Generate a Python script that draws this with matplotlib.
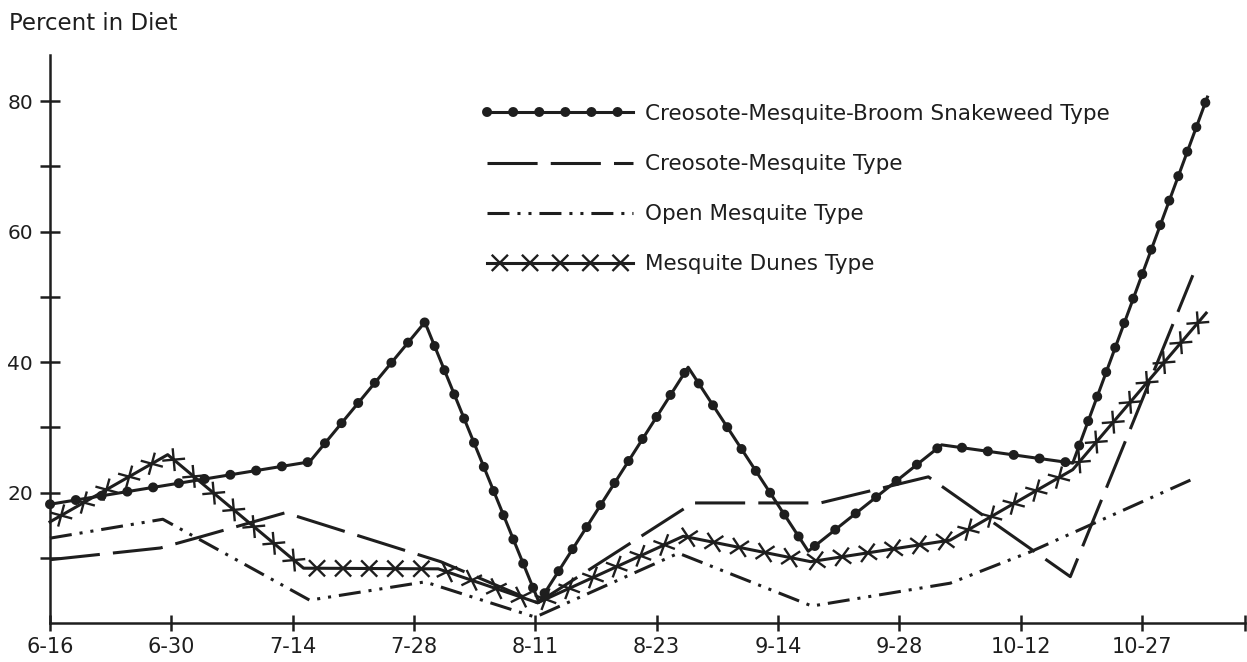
import numpy as np
import matplotlib
matplotlib.use('Agg')
import matplotlib.pyplot as plt
import matplotlib.patheffects as pe

# sampling dates (evenly spaced on the axis)
dates = ['6-16', '6-30', '7-14', '7-28', '8-11', '8-23', '9-14', '9-28', '10-12', '10-27']

# vertices (x in date-tick units, y in percent)
cmb_x = [0.00, 2.14, 3.09, 4.03, 5.26, 6.25, 7.35, 8.43, 9.54]
cmb_y = [18.2, 24.7, 46.1, 3.2, 39.2, 11.0, 27.3, 24.5, 80.6]

cm_x = [0.00, 0.91, 1.24, 1.94, 3.22, 4.02, 5.30, 6.35, 7.24, 8.41, 9.42]
cm_y = [9.7, 11.5, 13.2, 16.9, 9.4, 3.1, 18.4, 18.4, 22.4, 7.1, 53.3]

om_x = [0.00, 0.93, 2.14, 3.09, 4.00, 5.18, 6.28, 7.42, 8.08, 9.40]
om_y = [13.0, 15.9, 3.5, 6.3, 0.9, 10.7, 2.6, 6.1, 10.9, 21.9]

md_x = [0.00, 0.97, 2.09, 3.20, 4.02, 5.22, 6.27, 7.42, 8.43, 9.53]
md_y = [15.5, 25.8, 8.4, 8.3, 3.1, 13.3, 9.4, 12.7, 23.5, 47.5]

labels = ['Creosote-Mesquite-Broom Snakeweed Type',
          'Creosote-Mesquite Type',
          'Open Mesquite Type',
          'Mesquite Dunes Type']

ink = '#1e1e1e'
plt.rcParams['font.family'] = ['DejaVu Sans']

fig = plt.figure(figsize=(12.47, 6.62), dpi=100)
ax = fig.add_axes([50 / 1247, 1 - 623 / 662, 1195 / 1247, 568 / 662])

lw = 2.2
# solid line + evenly spaced round dots (zero-length round-capped dashes)
l_cmb, = ax.plot(cmb_x, cmb_y, color=ink, lw=lw, clip_on=False)
l_dot, = ax.plot(cmb_x, cmb_y, color=ink, lw=7.2, dashes=(0.01, 2.6),
                 dash_capstyle='round', clip_on=False)
l_cm, = ax.plot(cm_x, cm_y, color=ink, lw=lw, dashes=(16.4, 4.3), clip_on=False)
l_om, = ax.plot(om_x, om_y, color=ink, lw=lw,
                dashes=(7.2, 2.6, 1.0, 2.6, 1.0, 2.6), clip_on=False)
# solid line with crosses drawn along the path
xs = [pe.TickedStroke(spacing=18.5, angle=a, length=0.4, linewidth=1.7)
      for a in (45, 135, -45, -135)]
l_md, = ax.plot(md_x, md_y, color=ink, lw=lw, clip_on=False,
                path_effects=[pe.Normal()] + xs)

ax.set_xlim(0, 9.85)
ax.set_ylim(0, 87.05)
ax.set_xticks(list(range(len(dates))) + [9.85])
ax.set_xticklabels(dates + [''], fontsize=15, color=ink)
ax.set_yticks(range(10, 90, 10))
ax.set_yticklabels(['' if v % 20 else str(v) for v in range(10, 90, 10)],
                   fontsize=14.5, color=ink)
ax.tick_params(axis='y', direction='inout', length=14.4, width=1.8, pad=5, colors=ink)
ax.tick_params(axis='x', direction='inout', length=12, width=1.8, pad=4, colors=ink)
for s in ['top', 'right']:
    ax.spines[s].set_visible(False)
for s in ['left', 'bottom']:
    ax.spines[s].set_linewidth(1.8)
    ax.spines[s].set_color(ink)

fig.text(9 / 1247, 1 - 30 / 662, 'Percent in Diet', fontsize=16.5, color=ink,
         va='baseline', ha='left')

leg = ax.legend(handles=[(l_cmb, l_dot), l_cm, l_om, l_md], labels=labels,
                loc='upper left', bbox_to_anchor=(487 / 1247, 1 - 104 / 662),
                bbox_transform=fig.transFigure, frameon=False, fontsize=15.5,
                handlelength=6.8, handletextpad=0.55, labelspacing=1.4,
                borderpad=0, borderaxespad=0)
for t in leg.get_texts():
    t.set_color(ink)

fig.savefig('out.png', dpi=100)
